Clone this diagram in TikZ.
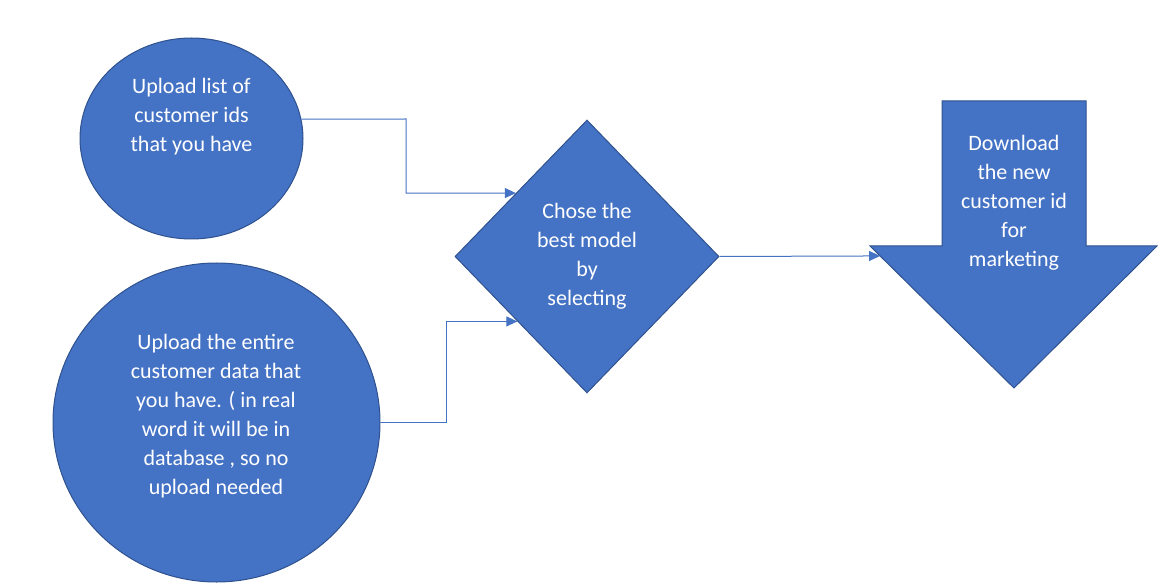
\documentclass[tikz,border=0pt]{standalone}
\usepackage{fontspec}
\setmainfont{Carlito}
\usetikzlibrary{shapes.geometric,arrows.meta,calc}
\definecolor{offblue}{HTML}{4472C4}
\definecolor{offedge}{HTML}{2F528F}
\tikzset{
  blob/.style={fill=offblue,draw=offedge,line width=1pt,inner sep=0pt},
  txt/.style={text=white,align=center,font=\fontsize{22}{29}\selectfont},
  conn/.style={draw=offblue,line width=1pt,-{Triangle[length=11pt,width=10pt]}}
}
\begin{document}
\begin{tikzpicture}[x=1pt,y=-1pt]
\useasboundingbox (0,0) rectangle (1165,588);
\node[blob,ellipse,minimum width=223pt,minimum height=201pt] (c1) at (191.5,138.5) {};
\node[txt] (t1) at (191.5,117) {Upload list of\\customer ids\\that you have};
\node[blob,ellipse,minimum width=327pt,minimum height=319pt] (c2) at (216.5,422.5) {};
\node[txt] (t2) at (216,416) {Upload the entire\\customer data that\\you have. ( in real\\word it will be in\\database , so no\\upload needed};
\node[blob,diamond,minimum width=264pt,minimum height=273pt,txt] (d) at (587,256.5) {Chose the\\best model\\by\\selecting};
\coordinate (sl) at (942,101);
\coordinate (sr) at (1086,101);
\coordinate (hl) at (870,246);
\coordinate (hr) at (1157,246);
\coordinate (tip) at (1014,388);
\fill[offblue,draw=offedge,line width=1pt] (sl) -- (sr) -- (sr |- hr) -- (hr) -- (tip) -- (hl) -- (sl |- hl) -- cycle;
\node[txt] (t4) at (1014,203) {Download\\the new\\customer id\\for\\marketing};
\coordinate (e1) at ($(d.west)!0.463!(d.north)$);
\coordinate (e2) at ($(d.west)!0.474!(d.south)$);
\coordinate (e3) at ($(hl)!0.07!(tip)$);
\draw[conn] (c1.10) -- (406,119) |- (e1);
\draw[conn] (c2.east) -- (446,422.5) |- (e2);
\draw[conn] (d.east) -- (e3);
\end{tikzpicture}
\end{document}
